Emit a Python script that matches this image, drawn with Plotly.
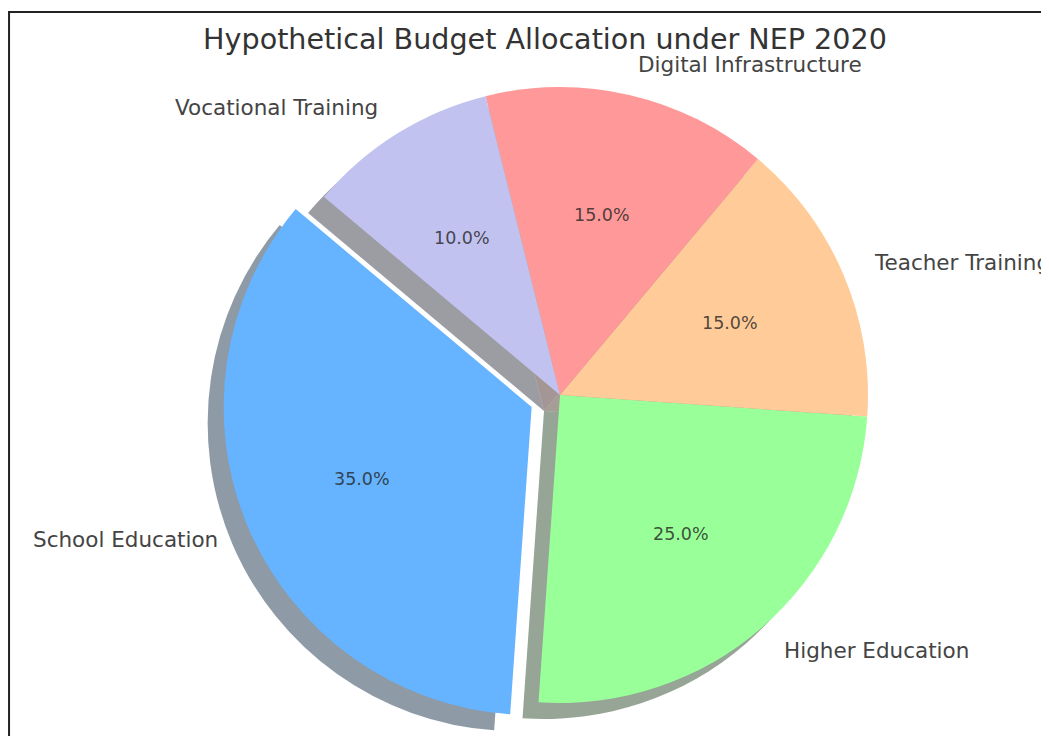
import math
import plotly.graph_objects as go

# ---- data ----
categories = ["School Education", "Higher Education", "Teacher Training",
              "Digital Infrastructure", "Vocational Training"]
shares = [35, 25, 15, 15, 10]
colors = ["#66b3ff", "#99ff99", "#ffcc99", "#ff9999", "#c2c2f0"]
explode = [0.1, 0, 0, 0, 0]
start_angle = 140  # degrees, counterclockwise from 3 o'clock (start of first wedge)
label_distance = 1.1
pct_distance = 0.6

# ---- layout geometry (pixels, figure coords) ----
W, H = 1041, 728
cx, cy, R = 552, 387, 308
shadow_dx, shadow_dy = -16, 16
TRANSPARENT = "rgba(0,0,0,0)"


def dom(ccx, ccy, half):
    y0 = max(0.0, 1 - (ccy + half) / H)
    return dict(x=[(ccx - half) / W, (ccx + half) / W],
                y=[y0, 1 - (ccy - half) / H])


def shade(hex_color, f=0.3, a=0.5):
    h = hex_color.lstrip("#")
    r, g, b = (int(h[i:i + 2], 16) for i in (0, 2, 4))
    return f"rgba({int(r*f)},{int(g*f)},{int(b*f)},{a})"


total = sum(shares)
# plotly counterclockwise: rotation marks the end of the first wedge (clockwise from 12 o'clock)
end_first = start_angle + 360 * shares[0] / total
common = dict(labels=categories, values=shares, sort=False,
              direction="counterclockwise", rotation=90 - end_first,
              showlegend=False, hoverinfo="skip", textinfo="none")

# wedge mid-angles (degrees, counterclockwise from 3 o'clock)
mids = []
acc = 0
for s in shares:
    mids.append(start_angle + 360 * (acc + s / 2) / total)
    acc += s

fig = go.Figure()


# each wedge is drawn by its own pie trace (others transparent), its domain shifted by its explode
def wedge_colors(i, col):
    return [col if j == i else TRANSPARENT for j in range(len(shares))]


offsets = []
for e, m in zip(explode, mids):
    a = math.radians(m)
    offsets.append((e * R * math.cos(a), -e * R * math.sin(a)))

# shadows first (behind all wedges)
for i, c in enumerate(colors):
    ox, oy = offsets[i]
    sdy = min(shadow_dy, H - (cy + oy + R))
    fig.add_trace(go.Pie(**common, domain=dom(cx + ox + shadow_dx, cy + oy + sdy, R),
                         marker=dict(colors=wedge_colors(i, shade(c)))))
# wedges
for i, c in enumerate(colors):
    ox, oy = offsets[i]
    fig.add_trace(go.Pie(**common, domain=dom(cx + ox, cy + oy, R),
                         marker=dict(colors=wedge_colors(i, c))))

# labels and percentages, placed like matplotlib (labeldistance / pctdistance)
annotations = []
for name, s, e, m in zip(categories, shares, explode, mids):
    a = math.radians(m)
    ca, sa = math.cos(a), math.sin(a)
    lx = cx + (e + label_distance) * R * ca
    ly = cy - (e + label_distance) * R * sa
    annotations.append(dict(x=lx / W, y=1 - ly / H, xref="paper", yref="paper",
                            text=name, showarrow=False,
                            xanchor="left" if ca > 0 else "right", yanchor="middle",
                            font=dict(family="DejaVu Sans", size=21.5, color="#444444")))
    tx = cx + (e + pct_distance) * R * ca
    ty = cy - (e + pct_distance) * R * sa
    annotations.append(dict(x=tx / W, y=1 - ty / H, xref="paper", yref="paper",
                            text=f"{100 * s / total:.1f}%", showarrow=False,
                            xanchor="center", yanchor="middle",
                            font=dict(family="DejaVu Sans", size=17.5, color="rgba(35,35,35,0.8)")))

fig.update_layout(
    width=W, height=H,
    margin=dict(l=0, r=0, t=0, b=0, autoexpand=False),
    paper_bgcolor="white",
    title=dict(text="Hypothetical Budget Allocation under NEP 2020",
               x=537 / W, xanchor="center", y=1 - 31 / H, yanchor="middle",
               font=dict(family="DejaVu Sans", size=28.6, color="#333333")),
    annotations=annotations,
    shapes=[
        dict(type="line", xref="paper", yref="paper", x0=0, x1=1, y0=1 - 4 / H, y1=1 - 4 / H,
             line=dict(color="#222222", width=2)),
        dict(type="line", xref="paper", yref="paper", x0=0.001, x1=0.001, y0=0, y1=1 - 4 / H,
             line=dict(color="#222222", width=2)),
    ],
)

fig.write_html("out.html")
